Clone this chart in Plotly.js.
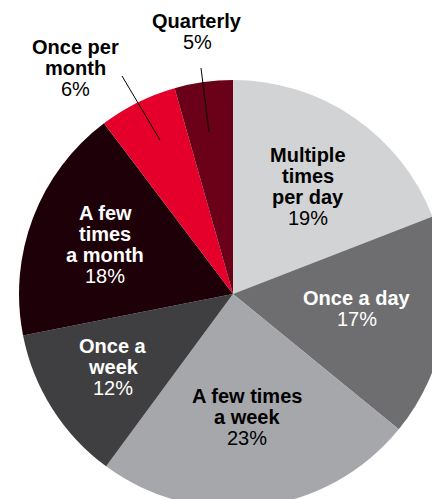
<!DOCTYPE html>
<html>
<head>
<meta charset="utf-8">
<script src="https://cdn.plot.ly/plotly-3.0.1.min.js"></script>
<style>
  html, body { margin: 0; padding: 0; background: #fff; overflow: hidden; }
  #wrap { width: 432px; height: 499px; overflow: hidden; position: relative; }
  #chart { position: absolute; left: 0; top: 0; }
</style>
</head>
<body>
<div id="wrap"><div id="chart"></div></div>
<script>
// ---- data ----
const categories = ["Multiple times per day", "Once a day", "A few times a week", "Once a week", "A few times a month", "Once per month", "Quarterly"];
const labelLines = [["Multiple", "times", "per day"], ["Once a day"], ["A few times", "a week"], ["Once a", "week"], ["A few", "times", "a month"], ["Once per", "month"], ["Quarterly"]];
// slice sizes as drawn in the picture (share of the circle, %)
const values = [19.1, 16.8, 24.2, 11.8, 17.8, 5.9, 4.4];
// percentages printed on the chart
const pctLabels = ["19%", "17%", "23%", "12%", "18%", "6%", "5%"];

// ---- styles / layout ----
const colors = ["#d1d3d4", "#6e6e70", "#a6a7ab", "#3f3f41", "#1e0008", "#e5002b", "#6b0019"];
const textColors = ["#000", "#fff", "#000", "#fff", "#fff", "#000", "#000"];
const W = 470, H = 520;
const cx = 233, cy = 294, R = 214;
// label anchor: [centre x, baseline of first line] in pixels
const labelPos = [[308, 162], [357, 305], [247, 403], [113, 353], [105, 220], [75, 54], [197, 28]];
const lineGap = 21;
const fontSize = 20;
// leader lines (pixels) for the outside labels: [x0,y0,x1,y1]
const leaders = {5: [122, 76, 160, 140], 6: [201, 68, 209, 132]};

const px = x => x / W;
const py = y => 1 - y / H;

const trace = {
  type: "pie",
  labels: categories,
  values: values,
  sort: false,
  direction: "clockwise",
  rotation: 0,
  textinfo: "none",
  hoverinfo: "label",
  marker: { colors: colors, line: { width: 0 } },
  showlegend: false,
  domain: { x: [px(cx - R), px(cx + R)], y: [py(cy + R), py(cy - R)] }
};

const annotations = [];
const fam = "'Liberation Sans', Arial, Helvetica, sans-serif";
categories.forEach((c, i) => {
  const lines = labelLines[i].map(t => ({ t: "<b>" + t + "</b>" }));
  lines.push({ t: pctLabels[i] });
  lines.forEach((ln, k) => {
    const base = labelPos[i][1] + k * lineGap;
    annotations.push({
      xref: "paper", yref: "paper",
      x: px(labelPos[i][0]), y: py(base - 0.35 * fontSize),
      xanchor: "center", yanchor: "middle",
      showarrow: false, align: "center",
      text: ln.t,
      font: { family: fam, size: fontSize, color: textColors[i] }
    });
  });
});

const shapes = Object.keys(leaders).map(k => {
  const l = leaders[k];
  return { type: "line", xref: "paper", yref: "paper",
    x0: px(l[0]), y0: py(l[1]), x1: px(l[2]), y1: py(l[3]),
    line: { color: "#000", width: 1 } };
});

Plotly.newPlot("chart", [trace], {
  width: W, height: H,
  margin: { l: 0, r: 0, t: 0, b: 0 },
  paper_bgcolor: "#fff",
  annotations: annotations,
  shapes: shapes
}, { displayModeBar: false, staticPlot: true });
</script>
</body>
</html>
